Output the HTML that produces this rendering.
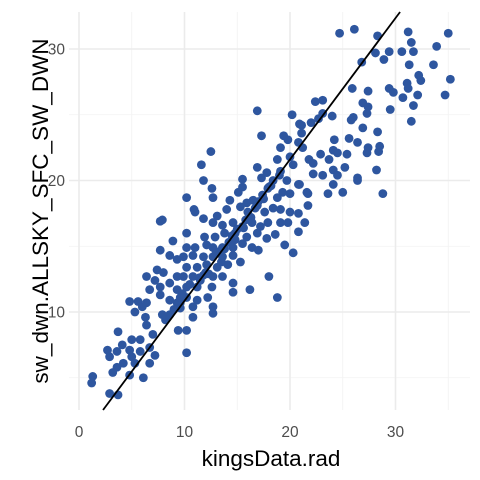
<!DOCTYPE html>
<html><head><meta charset="utf-8"><style>
body{margin:0;background:#fff}
svg{display:block;font-family:"Liberation Sans",sans-serif}
</style></head><body>
<svg id="chart" width="480" height="480" viewBox="0 0 480 480" xmlns="http://www.w3.org/2000/svg">
<g id="grid"></g>
<g id="points"></g>
<g id="fit"></g>
<g id="axes"></g>
<text x="271" y="466" text-anchor="middle" font-size="22.5" fill="#000">kingsData.rad</text>
<text transform="translate(48,211) rotate(-90)" text-anchor="middle" font-size="22.5" fill="#000">sw_dwn.ALLSKY_SFC_SW_DWN</text>
</svg>
<script>
const xVals=[24.7,26.1,28.3,31.2,35.0,31.5,33.9,28.1,29.4,30.6,31.7,28.9,26.8,31.3,33.6,32.2,32.4,35.2,31.1,31.2,25.9,27.4,29.4,29.8,30.7,32.1,34.7,31.7,29.5,26.9,27.4,27.3,26.0,25.8,31.5,22.4,23.1,23.1,24.0,22.7,22.0,21.1,26.9,28.3,21.1,25.6,26.4,24.2,27.4,28.5,28.4,27.3,25.4,24.5,24.1,22.9,21.2,21.8,23.7,25.2,28.2,26.4,26.4,22.2,22.2,23.1,24.1,24.5,24.1,23.6,25.0,28.8,21.6,20.9,
16.9,20.2,20.9,17.3,19.4,19.8,20.8,19.1,12.5,11.6,18.8,20.0,16.9,20.3,17.8,19.1,15.5,11.8,17.3,18.4,19.7,20.8,15.5,12.6,17.9,19.3,10.2,12.7,14.3,15.1,17.4,16.5,18.8,20.0,21.7,21.7,10.9,11.8,13.1,14.0,15.3,15.9,16.9,17.6,18.4,19.1,20.0,20.8,21.4,12.7,13.6,14.6,15.5,16.4,17.2,17.9,19.1,19.8,20.8,10.2,11.9,12.9,13.8,14.8,15.9,16.9,17.8,18.6,10.2,11.0,12.1,12.7,13.6,14.6,15.5,16.4,17.0,19.5,20.3,9.9,10.8,11.8,12.7,13.6,14.6,15.3,10.2,11.2,12.1,13.1,14.1,9.9,10.8,11.8,12.7,13.6,18.0,10.2,11.2,12.6,14.6,14.6,16.2,10.2,11.2,12.2,18.8,9.6,10.8,12.7,
7.9,7.7,11.0,7.7,8.9,8.6,9.3,7.4,8.0,7.2,7.7,8.6,9.3,9.3,7.7,8.6,9.3,9.6,4.8,5.6,6.4,6.0,5.3,7.9,6.3,6.4,8.6,9.6,10.8,12.7,9.4,10.2,3.7,7.0,5.0,5.8,6.7,4.1,2.7,3.6,4.8,5.8,5.0,4.2,5.3,2.9,7.2,6.7,3.6,3.2,4.8,6.1,10.2,1.3,1.2,2.9,3.7,6.4,6.7,
13.0,14.2,15.8,16.3,17.5,18.2,19.0,13.5,14.8,16.0,17.0,18.0,12.0,13.3,14.5,15.6,16.7,11.5,12.3,13.8,15.0,9.0,10.5,11.4,8.2,9.8];
const yVals=[31.2,31.5,31.0,31.3,31.2,30.5,30.2,29.7,29.8,29.8,29.8,29.2,29.0,28.8,28.8,28.0,27.6,27.7,27.4,27.0,27.0,26.8,27.0,26.7,26.3,26.5,26.5,25.7,25.4,25.9,25.6,25.1,24.8,24.6,24.5,26.0,26.1,25.1,24.9,24.7,24.4,24.2,24.0,23.7,23.6,23.2,22.9,23.1,22.5,22.6,22.2,22.1,22.0,22.1,22.3,22.0,22.5,21.6,21.6,21.0,20.8,20.2,20.0,21.3,20.5,20.4,20.8,20.4,19.7,19.0,19.1,19.0,19.1,19.7,
25.3,25.0,24.3,23.4,23.4,23.1,22.9,22.5,22.2,21.2,21.6,21.8,21.0,21.2,20.6,20.7,20.1,20.0,20.2,20.0,20.0,19.7,19.5,19.4,19.4,19.1,18.7,18.7,18.5,19.1,18.9,18.5,18.7,19.0,19.0,18.1,17.8,17.1,17.3,17.8,18.0,18.3,18.1,17.6,17.9,17.8,17.6,17.5,16.8,16.8,16.6,16.8,16.5,16.8,16.5,16.8,16.8,16.8,16.1,16.0,15.7,15.7,16.0,16.0,15.7,16.0,15.6,15.9,14.9,14.9,15.1,14.9,14.9,14.9,15.2,14.9,14.7,15.1,14.5,14.2,14.3,14.2,14.2,14.2,14.3,13.8,13.4,13.4,13.6,13.4,13.6,12.7,12.7,12.8,12.7,12.7,12.7,11.9,11.9,11.9,12.2,11.5,11.7,11.1,10.9,11.1,11.1,10.7,10.4,10.4,
17.0,16.9,17.6,14.7,15.4,14.3,14.0,13.2,13.0,12.4,11.9,12.2,12.7,11.7,11.3,10.9,10.7,11.1,10.8,10.8,10.7,10.4,10.0,9.8,9.6,9.0,9.8,10.3,9.6,9.9,8.6,8.6,8.5,8.3,7.9,7.9,7.3,7.5,7.1,7.0,7.1,7.0,6.6,6.1,6.1,6.6,6.7,6.1,5.8,5.4,5.2,5.0,6.9,5.1,4.6,3.8,3.7,12.7,11.7,
14.5,15.3,17.0,17.2,18.6,19.6,20.4,13.8,15.5,17.6,18.4,19.5,13.0,14.6,15.8,16.4,17.9,12.4,12.9,14.8,16.3,10.2,12.1,12.6,9.4,11.4];
const fitIntercept=[0.1];
const fitSlope=[1.075];
const xTicks=[0,10,20,30];
const xMinor=[5,15,25,35];
const yTicks=[10,20,30];
const yMinor=[5,15,25];
const NS='http://www.w3.org/2000/svg';
const L=69,R=470,T=12,B=410;
const xs=v=>79+v*10.55;
const ys=v=>312-(v-10)*13.15;
const xInv=p=>(p-79)/10.55, yInv=p=>10+(312-p)/13.15;
function mk(tag,attrs,parent){const e=document.createElementNS(NS,tag);for(const k in attrs)e.setAttribute(k,attrs[k]);parent.appendChild(e);return e;}
const grid=document.getElementById('grid'),axes=document.getElementById('axes');
xMinor.forEach(v=>{const e=mk('line',{x1:xs(v),x2:xs(v),y1:T,y2:B,stroke:'#f2f2f2','stroke-width':0.8},grid);

});
yMinor.forEach(v=>{const e=mk('line',{x1:L,x2:R,y1:ys(v),y2:ys(v),stroke:'#f2f2f2','stroke-width':0.8},grid);

});
xTicks.forEach(v=>{const e=mk('line',{x1:xs(v),x2:xs(v),y1:T,y2:B,stroke:'#ebebeb','stroke-width':1.6},grid);


const t=mk('text',{x:xs(v),y:437,'text-anchor':'middle','font-size':15.5,fill:'#4d4d4d'},axes);t.textContent=v;

});
yTicks.forEach(v=>{const e=mk('line',{x1:L,x2:R,y1:ys(v),y2:ys(v),stroke:'#ebebeb','stroke-width':1.6},grid);


const t=mk('text',{x:65,y:ys(v)+5.5,'text-anchor':'end','font-size':15.5,fill:'#4d4d4d'},axes);t.textContent=v;

});
const pts=document.getElementById('points');
for(let i=0;i<xVals.length;i++){const c=mk('circle',{cx:xs(xVals[i]),cy:ys(yVals[i]),r:4.4,fill:'#2E569F'},pts);

}
const a=fitIntercept[0],b=fitSlope[0];
let x0=xInv(L),x1=xInv(R);
const yb=yInv(B),yt=yInv(T);
x0=Math.max(x0,(yb-a)/b);x1=Math.min(x1,(yt-a)/b);
const ln=mk('line',{x1:xs(x0),y1:ys(a+b*x0),x2:xs(x1),y2:ys(a+b*x1),stroke:'#000','stroke-width':1.8},document.getElementById('fit'));


</script>
</body></html>
